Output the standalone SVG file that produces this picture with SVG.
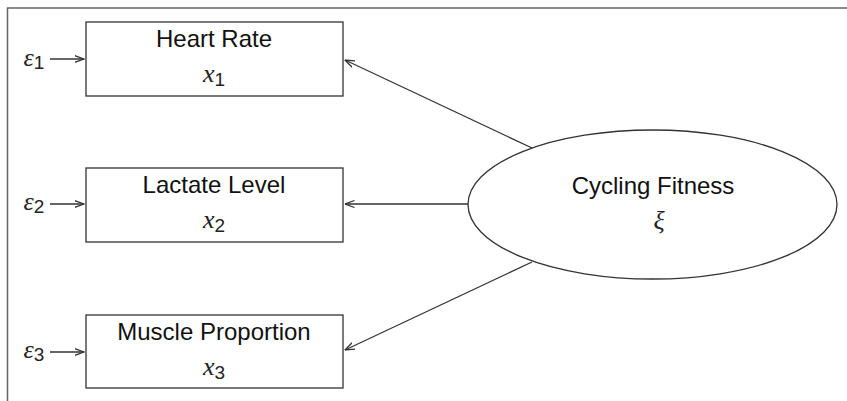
<svg xmlns="http://www.w3.org/2000/svg" width="847" height="401" viewBox="0 0 847 401">
  <style>
    .frame { fill: none; stroke: #666; stroke-width: 1.5; }
    .box { fill: #fff; stroke: #333; stroke-width: 1.3; }
    .oval { fill: #fff; stroke: #333; stroke-width: 1.3; }
    .label { font-family: "Liberation Sans", Arial, sans-serif; font-size: 24px; fill: #111; text-anchor: middle; }
    .sym { font-family: "Liberation Serif", "Times New Roman", serif; font-style: italic; font-size: 26px; fill: #222; text-anchor: middle; }
    .sub { font-family: "Liberation Sans", Arial, sans-serif; font-style: normal; font-size: 19px; }
    .edge { fill: none; stroke: #333; stroke-width: 1.3; marker-end: url(#head); }
  </style>
  <defs>
    <marker id="head" viewBox="0 0 10 10" refX="9.5" refY="5" markerWidth="10" markerHeight="10" markerUnits="userSpaceOnUse" orient="auto">
      <path d="M0,1.5 L9.5,5 L0,8.5" fill="none" stroke="#333" stroke-width="1.3"/>
    </marker>
  </defs>

  <rect width="847" height="401" fill="#fff"/>
  <!-- outer frame (open at right and bottom) -->
  <path class="frame" d="M847,8 H7.5 V401"/>

  <g id="connectors">
    <line class="edge" x1="50" y1="59" x2="84" y2="59"/>
    <line class="edge" x1="50" y1="204" x2="84" y2="204"/>
    <line class="edge" x1="50" y1="352" x2="84" y2="352"/>
    <line class="edge" x1="532" y1="148" x2="345" y2="60"/>
    <line class="edge" x1="468" y1="204" x2="345" y2="204"/>
    <line class="edge" x1="532" y1="262" x2="345" y2="350"/>
  </g>

  <g id="e1"><text class="sym" x="34" y="66">ε<tspan class="sub" dy="3">1</tspan></text></g>
  <g id="e2"><text class="sym" x="34" y="210">ε<tspan class="sub" dy="3">2</tspan></text></g>
  <g id="e3"><text class="sym" x="34" y="358">ε<tspan class="sub" dy="3">3</tspan></text></g>

  <g id="heart-rate">
    <rect class="box" x="86" y="22" width="257" height="74"/>
    <text class="label" x="214" y="47">Heart Rate</text>
    <text class="sym" x="214" y="82">x<tspan class="sub" dy="4">1</tspan></text>
  </g>

  <g id="lactate-level">
    <rect class="box" x="86" y="168" width="257" height="74"/>
    <text class="label" x="214" y="193">Lactate Level</text>
    <text class="sym" x="214" y="228">x<tspan class="sub" dy="4">2</tspan></text>
  </g>

  <g id="muscle-proportion">
    <rect class="box" x="86" y="315" width="257" height="73"/>
    <text class="label" x="214" y="340">Muscle Proportion</text>
    <text class="sym" x="214" y="375">x<tspan class="sub" dy="4">3</tspan></text>
  </g>

  <g id="cycling-fitness">
    <ellipse class="oval" cx="652.5" cy="204.5" rx="184.5" ry="74.5"/>
    <text class="label" x="653" y="194">Cycling Fitness</text>
    <text class="sym" x="659" y="229">ξ</text>
  </g>
</svg>
